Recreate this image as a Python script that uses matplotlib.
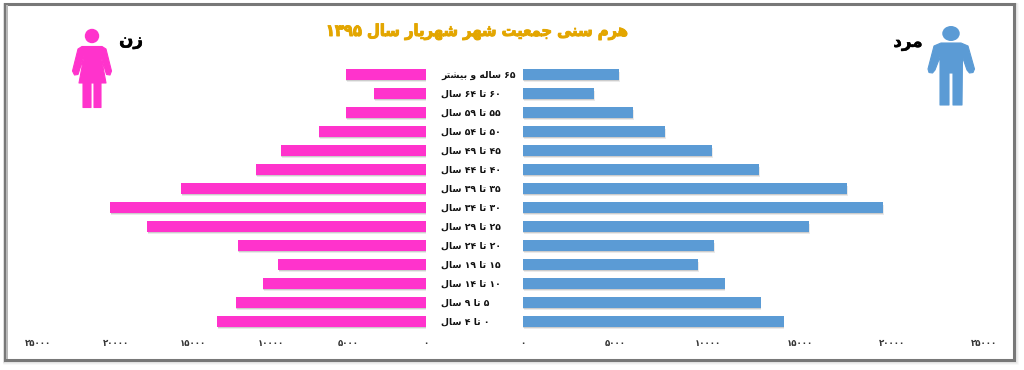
import matplotlib
matplotlib.use("Agg")
import matplotlib.pyplot as plt
import matplotlib.patheffects as pe
from matplotlib.patches import Rectangle, Circle, Ellipse, Polygon

FORMS = {
 'ا': (0xFE8D, 0xFE8E, None, None), 'ب': (0xFE8F, 0xFE90, 0xFE91, 0xFE92),
 'پ': (0xFB56, 0xFB57, 0xFB58, 0xFB59), 'ت': (0xFE95, 0xFE96, 0xFE97, 0xFE98),
 'ج': (0xFE9D, 0xFE9E, 0xFE9F, 0xFEA0), 'د': (0xFEA9, 0xFEAA, None, None),
 'ر': (0xFEAD, 0xFEAE, None, None), 'ز': (0xFEAF, 0xFEB0, None, None),
 'س': (0xFEB1, 0xFEB2, 0xFEB3, 0xFEB4), 'ش': (0xFEB5, 0xFEB6, 0xFEB7, 0xFEB8),
 'ع': (0xFEC9, 0xFECA, 0xFECB, 0xFECC), 'ل': (0xFEDD, 0xFEDE, 0xFEDF, 0xFEE0),
 'م': (0xFEE1, 0xFEE2, 0xFEE3, 0xFEE4), 'ن': (0xFEE5, 0xFEE6, 0xFEE7, 0xFEE8),
 'ه': (0xFEE9, 0xFEEA, 0xFEEB, 0xFEEC), 'و': (0xFEED, 0xFEEE, None, None),
 'ی': (0xFBFC, 0xFBFD, 0xFBFE, 0xFBFF),
}

def shape_word(w):
    if not w or w[0] not in FORMS:
        return w
    out = []
    for i, c in enumerate(w):
        prev_joins = i > 0 and FORMS[w[i - 1]][2] is not None
        next_joins = i < len(w) - 1 and FORMS[c][2] is not None
        iso, fin, ini, med = FORMS[c]
        g = med if prev_joins and next_joins else fin if prev_joins else ini if next_joins else iso
        out.append(chr(g))
    return ''.join(reversed(out))

def rtl(s):
    return ' '.join(shape_word(w) for w in reversed(s.split(' ')))

ages = ['۰ تا ۴ سال', '۵ تا ۹ سال', '۱۰ تا ۱۴ سال', '۱۵ تا ۱۹ سال', '۲۰ تا ۲۴ سال',
        '۲۵ تا ۲۹ سال', '۳۰ تا ۳۴ سال', '۳۵ تا ۳۹ سال', '۴۰ تا ۴۴ سال', '۴۵ تا ۴۹ سال',
        '۵۰ تا ۵۴ سال', '۵۵ تا ۵۹ سال', '۶۰ تا ۶۴ سال', '۶۵ ساله و بیشتر']
women = [13450, 12230, 10490, 9520, 12100, 17950, 20340, 15770, 10940, 9330, 6890, 5150, 3350, 5150]
men = [14150, 12900, 10950, 9490, 10360, 15510, 19520, 17570, 12800, 10250, 7700, 5965, 3850, 5206]
tick_values = [0, 5000, 10000, 15000, 20000, 25000]
tick_labels = ['۰', '۵۰۰۰', '۱۰۰۰۰', '۱۵۰۰۰', '۲۰۰۰۰', '۲۵۰۰۰']
title = 'هرم سنی جمعیت شهر شهریار سال ۱۳۹۵'
woman_label = 'زن'
man_label = 'مرد'

PINK = '#FF33CC'
BLUE = '#5B9BD5'
W, H = 1024, 370
plt.rcParams['font.family'] = ['DejaVu Sans']
fig = plt.figure(figsize=(W / 100, H / 100), dpi=100, facecolor='white')

def axes_px(x0, y0, x1, y1, **kw):
    return fig.add_axes([x0 / W, 1 - y1 / H, (x1 - x0) / W, (y1 - y0) / H], **kw)

bg = axes_px(0, 0, W, H)
bg.set_xlim(0, W); bg.set_ylim(H, 0); bg.axis('off')
for i, a in enumerate([0.06, 0.1, 0.16]):
    off = 3 - i
    bg.add_patch(Rectangle((4, 4), 1011 + off, 357 + off, fill=False, ec='#888888', lw=1.2, alpha=a))
bg.add_patch(Rectangle((4.5, 3.5), 1009, 356.5, fill=False, ec='#787878', lw=2.2))
bg.add_patch(Rectangle((6, 5), 2, 354, fc='#B8B8B8', ec='none'))

# woman icon
bg.add_patch(Circle((92, 36), 7.2, fc=PINK, ec='none'))
bg.add_patch(Polygon([(82, 46.5), (102, 46.5), (106, 49), (111.5, 71), (110, 75), (106.5, 74.5), (101, 56),
                      (106, 83), (101, 83), (101, 107.5), (94, 107.5), (94, 83), (91, 83), (91, 107.5),
                      (83, 107.5), (83, 83), (79, 83), (84, 56), (78, 74.5), (74.5, 75), (72.5, 71), (78, 49)],
                     closed=True, fc=PINK, ec=PINK, lw=0.8, joinstyle='round'))
# man icon
bg.add_patch(Ellipse((951, 33.5), 17.5, 15, fc=BLUE, ec='none'))
bg.add_patch(Polygon([(941, 43), (961, 43), (968, 46), (974.5, 69), (973, 72.5), (969.5, 73), (967, 70), (962.5, 57),
                      (962, 105), (953, 105), (953, 73), (949, 73), (949, 105), (940, 105), (940, 57),
                      (935, 70), (932.5, 73), (929, 72.5), (928, 69), (934, 46)],
                     closed=True, fc=BLUE, ec=BLUE, lw=0.8, joinstyle='round'))

bg.text(477, 32, rtl(title), ha='center', va='center', fontsize=11.8, fontweight='bold', fontstretch='condensed',
        color='#E3A600', path_effects=[pe.SimpleLineShadow(offset=(0.6, -0.8), shadow_color='#8a6a00', alpha=0.4),
                                       pe.withStroke(linewidth=0.7, foreground='#E3A600')])
bg.text(131, 40, rtl(woman_label), ha='center', va='center', fontsize=12, fontweight='bold', color='black',
        path_effects=[pe.withStroke(linewidth=0.4, foreground='black')])
bg.text(908, 42, rtl(man_label), ha='center', va='center', fontsize=12, fontweight='bold', color='black',
        path_effects=[pe.withStroke(linewidth=0.4, foreground='black')])

shadow = [pe.SimplePatchShadow(offset=(0.4, -1.8), shadow_rgbFace='#555555', alpha=0.12),
          pe.SimplePatchShadow(offset=(0.2, -0.9), shadow_rgbFace='#555555', alpha=0.2), pe.Normal()]

top, bottom = 65, 331
left = axes_px(38, top, 426, bottom)
right = axes_px(523, top, 984, bottom)
ypos = list(range(len(ages)))
left.barh(ypos, women, height=0.54, color=PINK, path_effects=shadow)
right.barh(ypos, men, height=0.54, color=BLUE, path_effects=shadow)
left.set_xlim(25000, 0)
right.set_xlim(0, 25000)

for ax in (left, right):
    ax.set_ylim(-0.5, len(ages) - 0.5)
    ax.patch.set_alpha(0)
    for s in ax.spines.values():
        s.set_visible(False)
    ax.set_xticks(tick_values)
    ax.set_xticklabels(tick_labels, fontsize=6.2, fontweight='bold', color='#333333')
    ax.tick_params(axis='x', length=0, pad=6)

left.yaxis.tick_right()
left.set_yticks(ypos)
left.set_yticklabels([rtl(a) for a in ages], fontsize=6.7, fontweight='bold', color='#111111')
left.tick_params(axis='y', length=0, pad=10.8)
right.set_yticks([])

fig.savefig('out.png', dpi=100, facecolor='white')
